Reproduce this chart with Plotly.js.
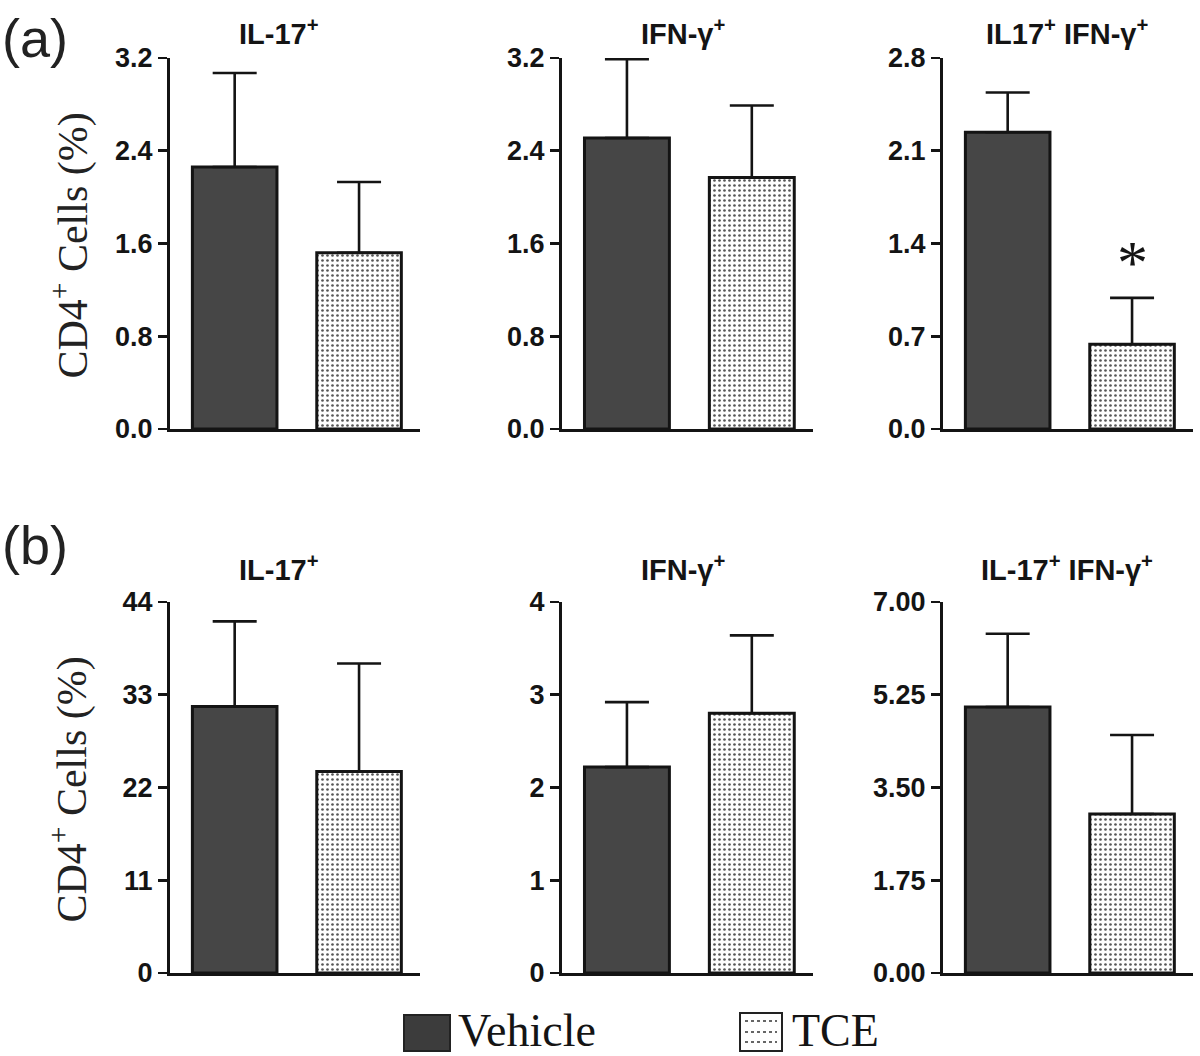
<!DOCTYPE html>
<html>
<head>
<meta charset="utf-8">
<script src="https://cdn.plot.ly/plotly-3.0.1.min.js"></script>
<style>html,body{margin:0;padding:0;background:#fff;}#chart{width:1200px;height:1056px;}</style>
</head>
<body>
<div id="chart"></div>
<script>
// ---------------- DATA ----------------
const categories = ['Vehicle', 'TCE'];
const panelTitlesA = ['IL-17<sup>+</sup>', 'IFN-γ<sup>+</sup>', 'IL17<sup>+</sup> IFN-γ<sup>+</sup>'];
const panelTitlesB = ['IL-17<sup>+</sup>', 'IFN-γ<sup>+</sup>', 'IL-17<sup>+</sup> IFN-γ<sup>+</sup>'];
const rowLabels = ['(a)', '(b)'];
const yTitle = 'CD4<sup>+</sup> Cells (%)';

const vehicleA    = [2.26, 2.51, 2.24];
const vehicleAErr = [0.81, 0.68, 0.30];
const tceA        = [1.52, 2.17, 0.64];
const tceAErr     = [0.61, 0.62, 0.35];

const vehicleB    = [31.6, 2.22, 5.02];
const vehicleBErr = [10.1, 0.70, 1.38];
const tceB        = [23.9, 2.80, 3.00];
const tceBErr     = [12.8, 0.84, 1.49];

const tickValsA = [[0, 0.8, 1.6, 2.4, 3.2], [0, 0.8, 1.6, 2.4, 3.2], [0, 0.7, 1.4, 2.1, 2.8]];
const tickTextA = [['0.0','0.8','1.6','2.4','3.2'], ['0.0','0.8','1.6','2.4','3.2'], ['0.0','0.7','1.4','2.1','2.8']];
const tickValsB = [[0, 11, 22, 33, 44], [0, 1, 2, 3, 4], [0, 1.75, 3.5, 5.25, 7]];
const tickTextB = [['0','11','22','33','44'], ['0','1','2','3','4'], ['0.00','1.75','3.50','5.25','7.00']];

const significance = [[null, null], [null, null], [null, '*']]; // row (a) markers, per panel [vehicle, tce]

// ---------------- STYLE / LAYOUT ----------------
const W = 1200, H = 1056;
const SANS = 'Liberation Sans, Arial, Helvetica, sans-serif';
const SERIF = 'Liberation Serif, Times New Roman, serif';
const INK = '#141414';
const xDomains = [[170/W, 420/W], [562/W, 813/W], [943/W, 1193/W]];
const yDomains = [[1 - 429/H, 1 - 58/H], [1 - 973/H, 1 - 602/H]];
const titleX = [279/W, 684/W, 1067/W];
const titleY = [1 - 32/H, 1 - 568/H];

const rows = [
  {v: vehicleA, ve: vehicleAErr, t: tceA, te: tceAErr, tv: tickValsA, tt: tickTextA, titles: panelTitlesA},
  {v: vehicleB, ve: vehicleBErr, t: tceB, te: tceBErr, tv: tickValsB, tt: tickTextB, titles: panelTitlesB}
];

const traces = [];
const layout = {
  width: W, height: H,
  margin: {l: 0, r: 0, t: 0, b: 0},
  paper_bgcolor: '#fff', plot_bgcolor: 'rgba(0,0,0,0)',
  showlegend: false,
  bargap: 0,
  annotations: [],
  shapes: []
};

rows.forEach((row, r) => {
  for (let p = 0; p < 3; p++) {
    const idx = r * 3 + p + 1;
    const xa = 'x' + (idx === 1 ? '' : idx);
    const ya = 'y' + (idx === 1 ? '' : idx);
    traces.push({
      type: 'bar', x: [categories[0]], y: [row.v[p]], width: [0.68],
      xaxis: xa, yaxis: ya, name: categories[0],
      marker: {color: '#464646', line: {color: INK, width: 3}},
      error_y: {type: 'data', symmetric: false, array: [row.ve[p]], arrayminus: [0],
                color: INK, thickness: 2.6, width: 22},
      hoverinfo: 'skip'
    });
    traces.push({
      type: 'bar', x: [categories[1]], y: [row.t[p]], width: [0.68],
      xaxis: xa, yaxis: ya, name: categories[1],
      marker: {color: '#f2f2f2', line: {color: INK, width: 3},
               pattern: {shape: '.', fgcolor: '#555555', bgcolor: '#fdfdfd', size: 5, solidity: 0.22}},
      error_y: {type: 'data', symmetric: false, array: [row.te[p]], arrayminus: [0],
                color: INK, thickness: 2.6, width: 22},
      hoverinfo: 'skip'
    });
    const yMax = row.tv[p][row.tv[p].length - 1];
    layout['xaxis' + (idx === 1 ? '' : idx)] = {
      domain: xDomains[p], anchor: ya, type: 'category',
      categoryorder: 'array', categoryarray: categories,
      range: [-0.52, 1.49], showticklabels: false, ticks: '',
      showline: true, linecolor: INK, linewidth: 3, showgrid: false, zeroline: false, fixedrange: true
    };
    layout['yaxis' + (idx === 1 ? '' : idx)] = {
      domain: yDomains[r], anchor: xa, range: [0, yMax],
      tickmode: 'array', tickvals: row.tv[p], ticktext: row.tt[p],
      ticks: 'outside', ticklen: 9, tickwidth: 2.6, tickcolor: INK,
      tickfont: {family: SANS, size: 27, weight: 'bold', color: INK},
      showline: true, linecolor: INK, linewidth: 3, showgrid: false, zeroline: false, fixedrange: true
    };
    layout.annotations.push({
      xref: 'paper', yref: 'paper', x: titleX[p], y: titleY[r], xanchor: 'center', yanchor: 'middle',
      text: row.titles[p], showarrow: false,
      font: {family: SANS, size: 29, weight: 'bold', color: INK}
    });
    if (r === 0) {
      significance[p].forEach((s, k) => {
        if (!s) return;
        const val = k === 0 ? row.v[p] : row.t[p];
        const err = k === 0 ? row.ve[p] : row.te[p];
        layout.annotations.push({
          xref: xa, yref: ya, x: categories[k], y: val + err, xanchor: 'center', yanchor: 'bottom',
          yshift: 0, text: s, showarrow: false,
          font: {family: SERIF, size: 62, color: INK}
        });
      });
    }
  }
  // y-axis title for first column
  layout.annotations.push({
    xref: 'paper', yref: 'paper', x: 70/W, y: (yDomains[r][0] + yDomains[r][1]) / 2 - 2/H,
    xanchor: 'center', yanchor: 'middle', textangle: -90,
    text: yTitle, showarrow: false, font: {family: SERIF, size: 42, color: '#222'}
  });
  // row label
  layout.annotations.push({
    xref: 'paper', yref: 'paper', x: 0, y: r === 0 ? 1 - 38/H : 1 - 545/H,
    xanchor: 'left', yanchor: 'middle', text: rowLabels[r], showarrow: false,
    font: {family: SANS, size: 54, color: '#222'}
  });
});

// legend (drawn as swatches + labels)
const px = x => x / W, py = y => 1 - y / H;
layout.shapes.push({type: 'rect', xref: 'paper', yref: 'paper', x0: px(404), x1: px(450), y0: py(1051), y1: py(1015),
  fillcolor: '#3c3c3c', line: {color: '#222', width: 2}});
layout.shapes.push({type: 'rect', xref: 'paper', yref: 'paper', x0: px(740), x1: px(782), y0: py(1051), y1: py(1013),
  fillcolor: '#fff', line: {color: '#222', width: 2}});
[1021, 1032, 1042].forEach(yy => layout.shapes.push({type: 'line', xref: 'paper', yref: 'paper',
  x0: px(745), x1: px(777), y0: py(yy), y1: py(yy), line: {color: '#666', width: 2, dash: 'dot'}}));
layout.annotations.push({xref: 'paper', yref: 'paper', x: px(456), y: py(1030), xanchor: 'left', yanchor: 'middle',
  text: categories[0], showarrow: false, font: {family: SERIF, size: 46, color: INK}});
layout.annotations.push({xref: 'paper', yref: 'paper', x: px(790), y: py(1030), xanchor: 'left', yanchor: 'middle',
  text: categories[1], showarrow: false, font: {family: SERIF, size: 46, color: INK}});

Plotly.newPlot('chart', traces, layout, {staticPlot: true, displayModeBar: false});
</script>
</body>
</html>
